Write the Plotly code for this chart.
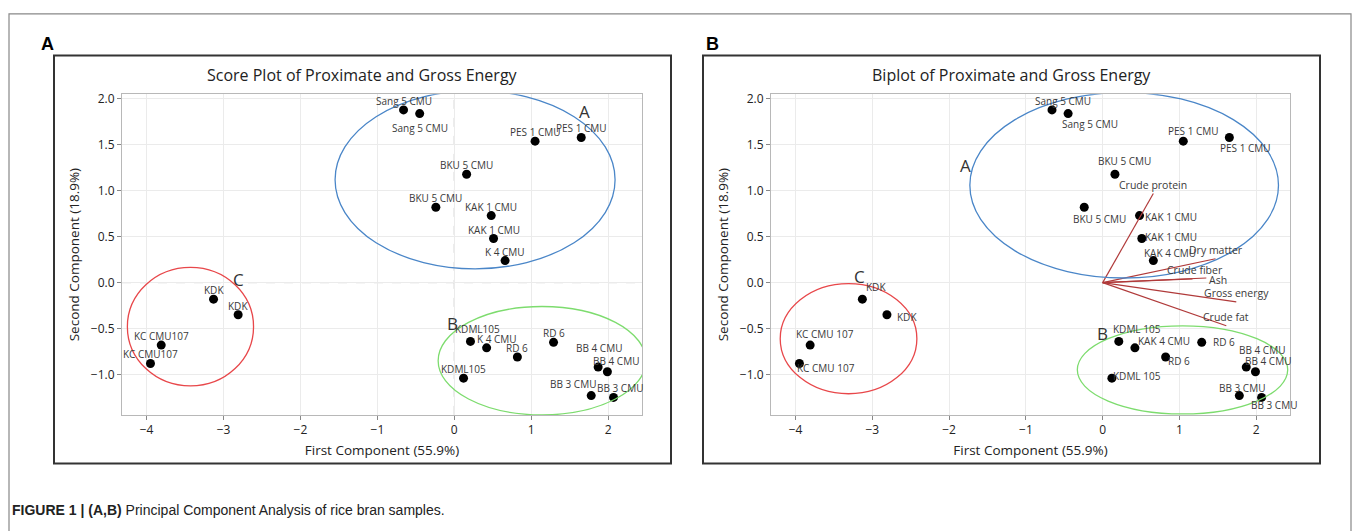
import plotly.graph_objects as go

W, H = 1360, 531

# ---- data ----
score_labels_a = ["Sang 5 CMU", "Sang 5 CMU", "PES 1 CMU", "PES 1 CMU", "BKU 5 CMU", "BKU 5 CMU",
                  "KAK 1 CMU", "KAK 1 CMU", "K 4 CMU", "KDK", "KDK", "KC CMU107", "KC CMU107",
                  "KDML105", "K 4 CMU", "RD 6", "RD 6", "BB 4 CMU", "BB 4 CMU", "KDML105",
                  "BB 3 CMU", "BB 3 CMU"]
score_labels_b = ["Sang 5 CMU", "Sang 5 CMU", "PES 1 CMU", "PES 1 CMU", "BKU 5 CMU", "BKU 5 CMU",
                  "KAK 1 CMU", "KAK 1 CMU", "KAK 4 CMU", "KDK", "KDK", "KC CMU 107", "KC CMU 107",
                  "KDML 105", "KAK 4 CMU", "RD 6", "RD 6", "BB 4 CMU", "BB 4 CMU", "KDML 105",
                  "BB 3 CMU", "BB 3 CMU"]
pc1 = [-0.66, -0.45, 1.05, 1.65, 0.16, -0.24, 0.48, 0.51, 0.66, -3.13, -2.81, -3.81, -3.95,
       0.21, 0.42, 0.82, 1.29, 1.87, 1.99, 0.12, 1.78, 2.07]
pc2 = [1.88, 1.84, 1.54, 1.58, 1.18, 0.82, 0.73, 0.48, 0.24, -0.18, -0.35, -0.68, -0.88,
       -0.64, -0.71, -0.81, -0.65, -0.92, -0.97, -1.04, -1.23, -1.25]

loading_names = ["Crude protein", "Dry matter", "Crude fiber", "Ash", "Gross energy", "Crude fat"]
loading_x = [0.66, 1.47, 1.17, 1.35, 1.74, 1.61]
loading_y = [0.97, 0.26, 0.04, 0.05, -0.21, -0.47]

# cluster ellipses: name, centre x, centre y, semi-axis x, semi-axis y
clusters = ["A", "B", "C"]
ell_a_cx = [0.27, 1.14, -3.43]
ell_a_cy = [1.12, -0.85, -0.48]
ell_a_rx = [1.82, 1.35, 0.82]
ell_a_ry = [0.97, 0.59, 0.645]
ell_b_cx = [0.28, 1.04, -3.31]
ell_b_cy = [1.06, -0.95, -0.61]
ell_b_rx = [2.01, 1.37, 0.89]
ell_b_ry = [1.01, 0.48, 0.60]
cluster_lab_a_x = [1.69, -0.02, -2.80]
cluster_lab_a_y = [1.86, -0.45, 0.03]
cluster_lab_b_x = [-1.79, 0.0, -3.17]
cluster_lab_b_y = [1.28, -0.55, 0.07]

x_ticks = [-4, -3, -2, -1, 0, 1, 2]
y_ticks = [-1.0, -0.5, 0.0, 0.5, 1.0, 1.5, 2.0]

# ---- styles / label offsets (pixels, label centre relative to point) ----
ell_colors = ["#4a86c8", "#7ddc6e", "#e8474a"]
off_a = [(0, -9), (0, 14), (0, -9), (0, -9), (0, -9), (0, -9), (0, -9), (0, -9), (0, -9),
         (0, -9), (0, -9), (0, -9), (0, -9), (7, -12), (10, -9), (0, -9), (0, -9), (1, -19),
         (9, -11), (0, -9), (-18, -12), (6, -9)]
off_b = [(11, -9), (22, 10), (10, -10), (16, 11), (10, -13), (15, 12), (31, 1), (29, -2),
         (17, -8), (14, -12), (20, 2), (15, -11), (27, 5), (18, -12), (29, -7), (13, 4),
         (22, 0), (16, -17), (13, -11), (25, -2), (3, -8), (12, 8)]
load_lab_off = [(0, -9), (0, -9), (2, -9), (12, 2), (0, -9), (0, -9)]

FONT = "Open Sans, Noto Sans, DejaVu Sans"
x_range = [-4.32, 2.44]
y_range = [-1.44, 2.05]

fig = go.Figure()


def px2paper(x, y):
    return x / W, 1 - y / H


# scatter points
for xa, ya in [("x", "y"), ("x2", "y2")]:
    fig.add_trace(go.Scatter(x=pc1, y=pc2, mode="markers", xaxis=xa, yaxis=ya,
                             marker=dict(color="black", size=9), showlegend=False,
                             hoverinfo="skip"))

# loading vectors
for nm, lx, ly in zip(loading_names, loading_x, loading_y):
    fig.add_trace(go.Scatter(x=[0, lx], y=[0, ly], mode="lines", xaxis="x2", yaxis="y2",
                             line=dict(color="#b03a3a", width=1.2), showlegend=False,
                             hoverinfo="skip"))

shapes = []
annotations = []

# dashed reference lines (left panel)
shapes.append(dict(type="line", xref="x", yref="y domain", x0=0, x1=0, y0=0, y1=1,
                   line=dict(color="#a0a0a0", width=1, dash="dash"), layer="below"))
shapes.append(dict(type="line", xref="x domain", yref="y", x0=0, x1=1, y0=0, y1=0,
                   line=dict(color="#a0a0a0", width=1, dash="dash"), layer="below"))

# ellipses
for i in range(3):
    shapes.append(dict(type="circle", xref="x", yref="y",
                       x0=ell_a_cx[i] - ell_a_rx[i], x1=ell_a_cx[i] + ell_a_rx[i],
                       y0=ell_a_cy[i] - ell_a_ry[i], y1=ell_a_cy[i] + ell_a_ry[i],
                       line=dict(color=ell_colors[i], width=1.3)))
    shapes.append(dict(type="circle", xref="x2", yref="y2",
                       x0=ell_b_cx[i] - ell_b_rx[i], x1=ell_b_cx[i] + ell_b_rx[i],
                       y0=ell_b_cy[i] - ell_b_ry[i], y1=ell_b_cy[i] + ell_b_ry[i],
                       line=dict(color=ell_colors[i], width=1.3)))
    annotations.append(dict(x=cluster_lab_a_x[i], y=cluster_lab_a_y[i], xref="x", yref="y",
                            text=clusters[i], showarrow=False, xanchor="center", yanchor="middle",
                            font=dict(family=FONT, size=17, color="#333")))
    annotations.append(dict(x=cluster_lab_b_x[i], y=cluster_lab_b_y[i], xref="x2", yref="y2",
                            text=clusters[i], showarrow=False, xanchor="center", yanchor="middle",
                            font=dict(family=FONT, size=17, color="#333")))

# point labels
for i in range(len(pc1)):
    annotations.append(dict(x=pc1[i], y=pc2[i], xref="x", yref="y", text=score_labels_a[i],
                            showarrow=False, xshift=off_a[i][0], yshift=-off_a[i][1],
                            xanchor="center", yanchor="middle",
                            font=dict(family=FONT, size=10, color="#3a3a3a")))
    annotations.append(dict(x=pc1[i], y=pc2[i], xref="x2", yref="y2", text=score_labels_b[i],
                            showarrow=False, xshift=off_b[i][0], yshift=-off_b[i][1],
                            xanchor="center", yanchor="middle",
                            font=dict(family=FONT, size=10, color="#3a3a3a")))

# loading labels
for nm, lx, ly, off in zip(loading_names, loading_x, loading_y, load_lab_off):
    annotations.append(dict(x=lx, y=ly, xref="x2", yref="y2", text=nm, showarrow=False,
                            xshift=off[0], yshift=-off[1], xanchor="center", yanchor="middle",
                            font=dict(family=FONT, size=10.5, color="#3a3a3a")))

# outer frame and panel boxes
shapes.append(dict(type="rect", xref="paper", yref="paper",
                   x0=9 / W, x1=1351 / W, y0=-0.05, y1=1 - 10 / H,
                   line=dict(color="#888", width=1.2)))
for x0, x1 in [(54, 671), (703, 1320)]:
    shapes.append(dict(type="rect", xref="paper", yref="paper",
                       x0=x0 / W, x1=x1 / W, y0=1 - 463 / H, y1=1 - 52 / H,
                       line=dict(color="#333", width=2)))

# panel letters and titles
for txt, px in [("A", 47), ("B", 712)]:
    xp, yp = px2paper(px, 40)
    annotations.append(dict(x=xp, y=yp, xref="paper", yref="paper", text=f"<b>{txt}</b>",
                            showarrow=False, xanchor="center", yanchor="middle",
                            font=dict(family="Liberation Sans, Arial", size=18, color="black")))
for txt, px in [("Score Plot of Proximate and Gross Energy", 362),
                ("Biplot of Proximate and Gross Energy", 1011)]:
    xp, yp = px2paper(px, 72)
    annotations.append(dict(x=xp, y=yp, xref="paper", yref="paper", text=txt, showarrow=False,
                            xanchor="center", yanchor="middle",
                            font=dict(family=FONT, size=16, color="#222")))

# caption
xp, yp = px2paper(10, 510)
annotations.append(dict(x=xp, y=yp, xref="paper", yref="paper", xanchor="left", yanchor="middle",
                        text="<b>FIGURE 1 | (A,B)</b> Principal Component Analysis of rice bran samples.",
                        showarrow=False,
                        font=dict(family="Liberation Sans Narrow, Arial Narrow, Liberation Sans",
                                  size=14, color="#222")))

axis_common = dict(range=x_range, tickvals=x_ticks, showgrid=True, gridcolor="#ebebeb",
                   zeroline=False, showline=True, linecolor="#b8b8b8", mirror=True,
                   ticks="outside", ticklen=4, tickcolor="#888",
                   tickfont=dict(family=FONT, size=12, color="#222"))
yaxis_common = dict(range=y_range, tickvals=y_ticks, tickformat=".1f", showgrid=True,
                    gridcolor="#ebebeb", zeroline=False, showline=True, linecolor="#b8b8b8",
                    mirror=True, ticks="outside", ticklen=4, tickcolor="#888",
                    tickfont=dict(family=FONT, size=12, color="#222"))

xt = dict(text="First Component (55.9%)", font=dict(family=FONT, size=13.5, color="#222"),
          standoff=8)
yt = dict(text="Second Component (18.9%)", font=dict(family=FONT, size=13.5, color="#222"),
          standoff=8)

fig.update_layout(
    width=W, height=H, margin=dict(l=0, r=0, t=0, b=0),
    paper_bgcolor="white", plot_bgcolor="white",
    xaxis=dict(domain=[122 / W, 642 / W], anchor="y", title=xt, **axis_common),
    yaxis=dict(domain=[1 - 414 / H, 1 - 91 / H], anchor="x", title=yt, **yaxis_common),
    xaxis2=dict(domain=[771 / W, 1290 / W], anchor="y2", title=xt, **axis_common),
    yaxis2=dict(domain=[1 - 414 / H, 1 - 91 / H], anchor="x2", title=yt, **yaxis_common),
    shapes=shapes, annotations=annotations, showlegend=False,
)

fig.write_html("out.html", config={"displayModeBar": False})

# remove default page margin so the figure sits at the window's top-left corner
with open("out.html", encoding="utf-8") as f:
    html = f.read()
html = html.replace("<head>", "<head><style>html,body{margin:0;padding:0;overflow:hidden}</style>", 1)
with open("out.html", "w", encoding="utf-8") as f:
    f.write(html)
